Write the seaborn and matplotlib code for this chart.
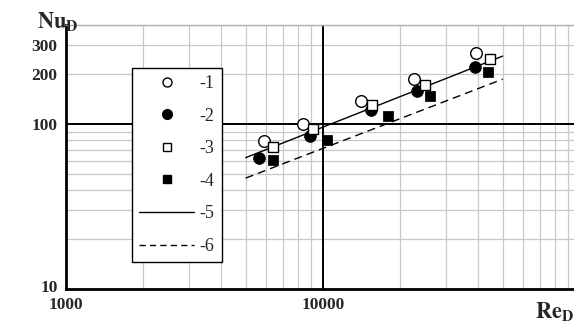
import matplotlib
matplotlib.use("Agg")
import matplotlib.pyplot as plt
import matplotlib.transforms as mtransforms
from matplotlib.lines import Line2D
from matplotlib.ticker import FixedLocator, LogLocator, NullFormatter, FixedFormatter
import seaborn as sns

# Re_D vs Nu_D
re1 = [5910, 8380, 14080, 22660, 39490]
nu1 = [78.9, 100.4, 137.0, 186.6, 268.0]
re2 = [5620, 8900, 15370, 23210, 38930]
nu2 = [62.5, 84.9, 121.6, 158.5, 221.6]
re3 = [6410, 9120, 15550, 25000, 44530]
nu3 = [72.9, 92.9, 129.8, 172.3, 247.7]
re4 = [6410, 10390, 17900, 26160, 43740]
nu4 = [60.3, 79.6, 111.8, 147.8, 206.7]

# correlation lines 5 and 6
re_line = [5000, 50000]
nu5 = [62.5, 258.0]
nu6 = [47.0, 187.0]

x_ticks = [1000, 10000, 100000]
x_labels = ["1000", "10000", ""]
y_ticks = [10, 100, 200, 300]
y_labels = ["10", "100", "200", "300"]
legend_labels = ["-1", "-2", "-3", "-4", "-5", "-6"]

sns.set_theme(style="white")
plt.rcParams['font.family'] = ['Liberation Serif', 'DejaVu Serif']
plt.rcParams['mathtext.fontset'] = 'stix'

fig = plt.figure(figsize=(5.74, 3.22), dpi=100)
ax = fig.add_axes([66 / 574, 0.1025, 514 / 574, 0.8208])
ax.set_xscale('log')
ax.set_yscale('log')
ax.set_xlim(1000, 100000)
ax.set_ylim(10, 400)

# grid: thin grey for 2..9, black for the inner decade lines
ax.xaxis.set_minor_locator(LogLocator(base=10, subs=range(2, 10)))
ax.yaxis.set_minor_locator(LogLocator(base=10, subs=range(2, 10)))
ax.yaxis.remove_overlapping_locs = False
ax.xaxis.set_major_locator(FixedLocator(x_ticks))
ax.xaxis.set_major_formatter(FixedFormatter(x_labels))
ax.yaxis.set_major_locator(FixedLocator(y_ticks))
ax.yaxis.set_major_formatter(FixedFormatter(y_labels))
ax.xaxis.set_minor_formatter(NullFormatter())
ax.yaxis.set_minor_formatter(NullFormatter())
ax.grid(which='minor', color='#c8c8c8', lw=0.9)
ax.grid(which='major', visible=False)
ax.axvline(10000, color='black', lw=1.4, zorder=1)
ax.axhline(100, color='black', lw=1.4, zorder=1)

ax.tick_params(which='both', length=0)
ax.tick_params(axis='y', pad=6)
ax.tick_params(axis='x', pad=6)
for lab in ax.get_xticklabels() + ax.get_yticklabels():
    lab.set_fontweight('bold')
    lab.set_fontsize(12.5)
# lift the "10" a little so it clears "1000"
ax.get_yticklabels()[0].set_transform(
    ax.get_yticklabels()[0].get_transform() + mtransforms.ScaledTranslation(0, 3 / 100, fig.dpi_scale_trans))

for side in ['left', 'bottom']:
    ax.spines[side].set_color('black')
    ax.spines[side].set_linewidth(2)
ax.spines['top'].set_color('#b0b0b0')
ax.spines['top'].set_linewidth(1)
ax.spines['right'].set_visible(False)

# lines
sns.lineplot(x=re_line, y=nu5, ax=ax, color='black', lw=1, zorder=3)
sns.lineplot(x=re_line, y=nu6, ax=ax, color='black', lw=1, zorder=3)
ax.lines[-1].set_dashes([5.8, 3.6])

# points
sns.scatterplot(x=re1, y=nu1, ax=ax, marker='o', s=70, facecolor='white', edgecolor='black', linewidth=1, zorder=4)
sns.scatterplot(x=re2, y=nu2, ax=ax, marker='o', s=70, color='black', edgecolor='black', zorder=4)
sns.scatterplot(x=re3, y=nu3, ax=ax, marker='s', s=45, facecolor='white', edgecolor='black', linewidth=1, zorder=4)
sns.scatterplot(x=re4, y=nu4, ax=ax, marker='s', s=45, color='black', edgecolor='black', zorder=4)

handles = [
    Line2D([], [], ls='', marker='o', ms=6.5, mfc='white', mec='black', mew=1),
    Line2D([], [], ls='', marker='o', ms=7, mfc='black', mec='black'),
    Line2D([], [], ls='', marker='s', ms=5.5, mfc='white', mec='black', mew=1),
    Line2D([], [], ls='', marker='s', ms=5.5, mfc='black', mec='black'),
    Line2D([], [], color='black', lw=1),
    Line2D([], [], color='black', lw=1, dashes=[4.5, 3]),
]
leg = ax.legend(handles, legend_labels, loc='upper left',
                bbox_to_anchor=(132 / 574, 1 - 68 / 322), bbox_transform=fig.transFigure,
                borderaxespad=0, fontsize=13, handlelength=3.05, handletextpad=0.3,
                labelspacing=0.86, borderpad=0.4, fancybox=False, framealpha=1,
                edgecolor='black')
leg.get_frame().set_linewidth(1)
leg.set_zorder(6)

fig.text(37 / 574, 1 - 28 / 322, r"$\mathbf{Nu}_\mathbf{D}$", fontsize=16, ha='left', va='baseline')
fig.text(535 / 574, 1 - 318 / 322, r"$\mathbf{Re}_\mathbf{D}$", fontsize=16, ha='left', va='baseline')

fig.savefig("out.png", dpi=100)
